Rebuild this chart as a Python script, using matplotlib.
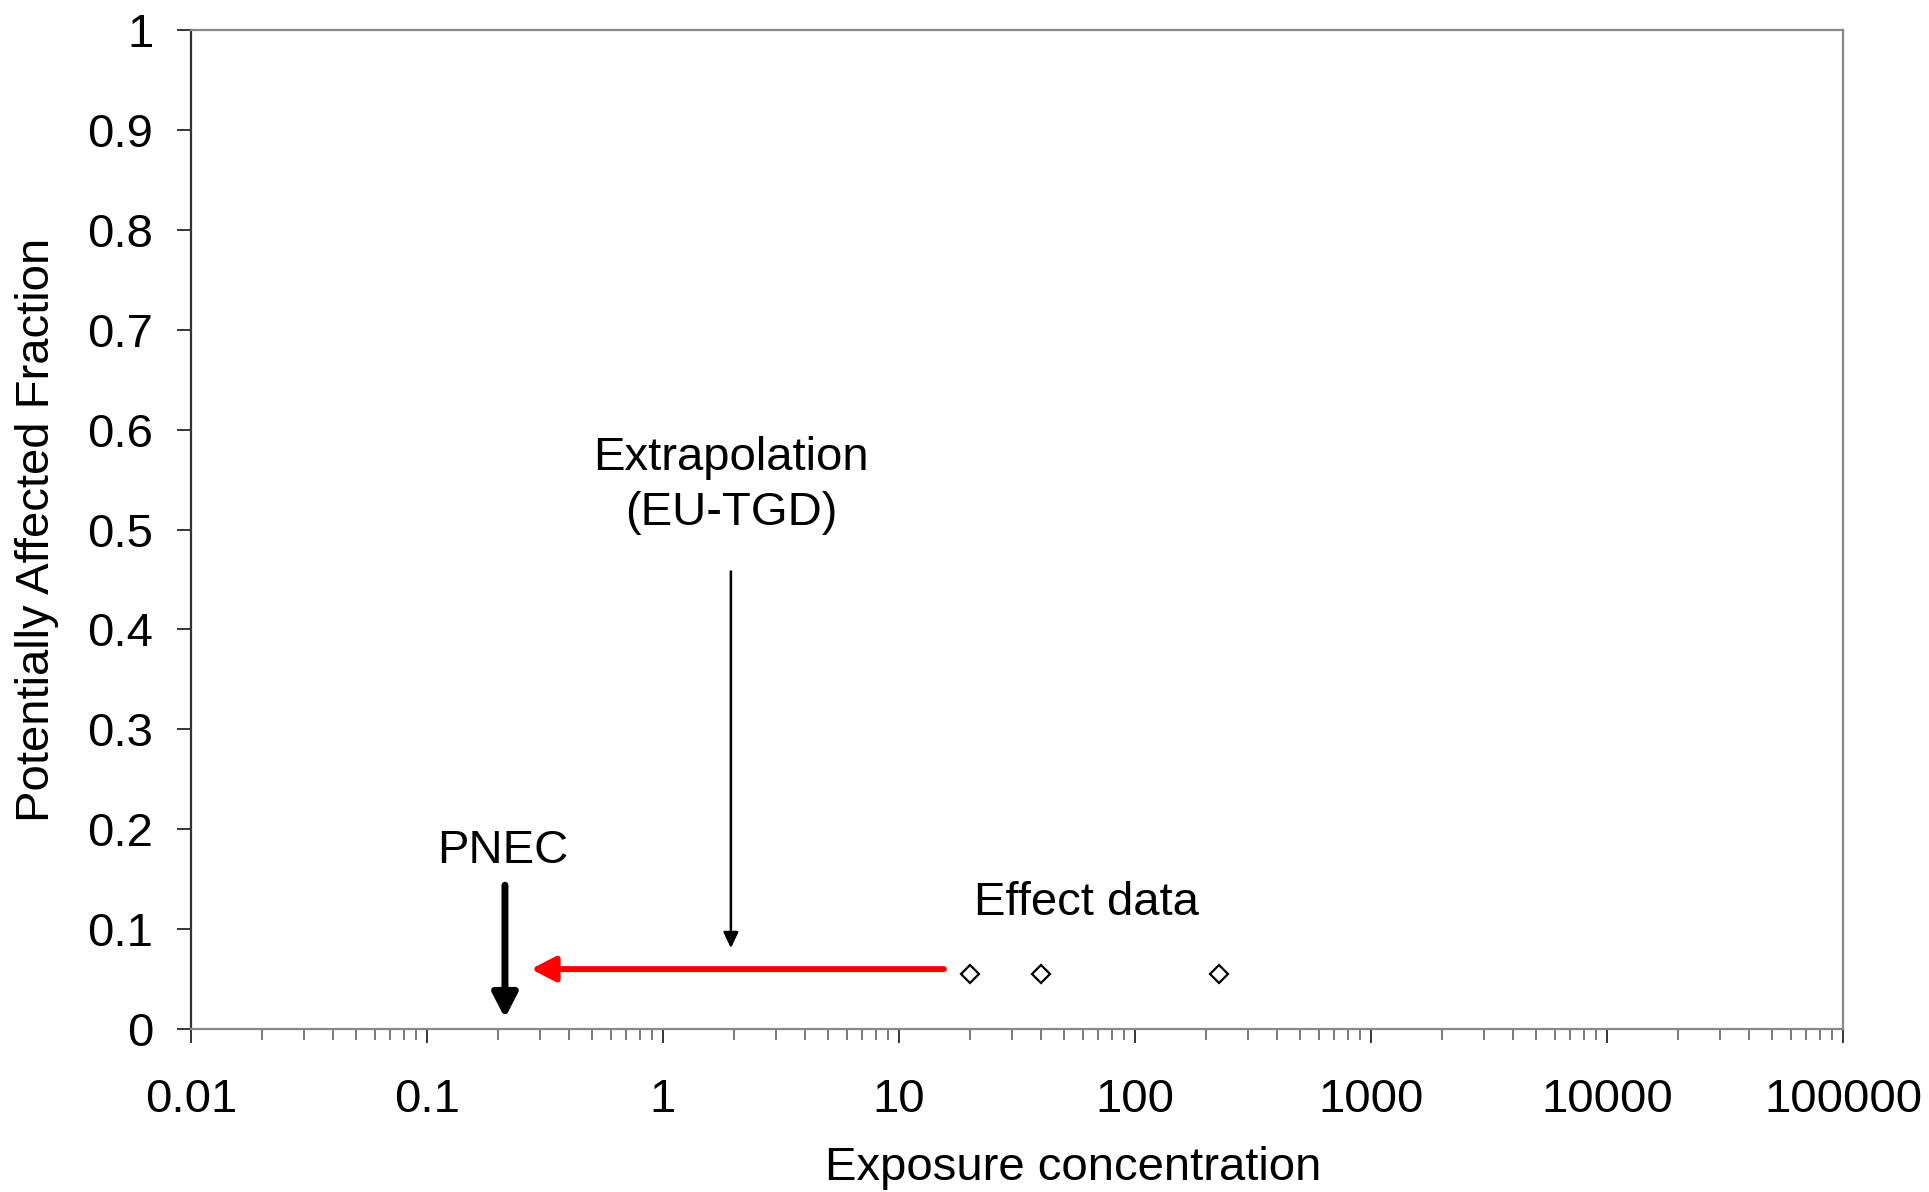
import numpy as np
import matplotlib
matplotlib.use("Agg")
import matplotlib.pyplot as plt
from matplotlib.ticker import FixedLocator, LogLocator, NullFormatter

plt.rcParams['font.family'] = ['Liberation Sans', 'DejaVu Sans']

# ---- data ----
effect_x = [20, 40, 228]
effect_y = [0.055, 0.055, 0.055]

pnec_x = 0.214
pnec_y_start = 0.144
pnec_y_end = 0.011

red_y = 0.06
red_x_start = 15.5
red_x_end = 0.276

extrap_x = 1.94
extrap_y_start = 0.458
extrap_y_end = 0.081

xticks = [0.01, 0.1, 1, 10, 100, 1000, 10000, 100000]
xtick_labels = ["0.01", "0.1", "1", "10", "100", "1000", "10000", "100000"]
yticks = [0, 0.1, 0.2, 0.3, 0.4, 0.5, 0.6, 0.7, 0.8, 0.9, 1]
ytick_labels = ["0", "0.1", "0.2", "0.3", "0.4", "0.5", "0.6", "0.7", "0.8", "0.9", "1"]

FS = 34

fig = plt.figure(figsize=(19.29, 11.92), dpi=100)
ax = fig.add_axes([0.0990, 0.1367, 0.9554 - 0.0990, 0.9748 - 0.1367])

ax.set_xscale('log')
ax.set_xlim(0.01, 100000)
ax.set_ylim(0, 1)

ax.plot(effect_x, effect_y, linestyle='none', marker='D', markersize=9,
        markerfacecolor='white', markeredgecolor='black', markeredgewidth=1.6,
        zorder=5)

# red extrapolation arrow
ax.annotate('', xy=(red_x_end, red_y), xytext=(red_x_start, red_y),
            arrowprops=dict(arrowstyle='-|>,head_length=14.5,head_width=7.5',
                            mutation_scale=1, color='#ff0000', lw=4.3,
                            shrinkA=0, shrinkB=0))
# PNEC arrow
ax.annotate('', xy=(pnec_x, pnec_y_end), xytext=(pnec_x, pnec_y_start),
            arrowprops=dict(arrowstyle='-|>,head_length=14.5,head_width=7.5',
                            mutation_scale=1, color='black', lw=5,
                            shrinkA=0, shrinkB=0))
# Extrapolation pointer arrow
ax.annotate('', xy=(extrap_x, extrap_y_end), xytext=(extrap_x, extrap_y_start),
            arrowprops=dict(arrowstyle='-|>,head_length=9.5,head_width=4.5',
                            mutation_scale=1, color='black', lw=1.8,
                            shrinkA=0, shrinkB=0))

ax.text(1.94, 0.544, "Extrapolation\n(EU-TGD)", ha='center', va='center',
        fontsize=FS, linespacing=1.32)
ax.text(0.21, 0.178, "PNEC", ha='center', va='center', fontsize=FS)
ax.text(62, 0.1265, "Effect data", ha='center', va='center', fontsize=FS)

ax.xaxis.set_major_locator(FixedLocator(xticks))
ax.set_xticklabels(xtick_labels)
ax.xaxis.set_minor_locator(LogLocator(base=10, subs=np.arange(2, 10), numticks=20))
ax.xaxis.set_minor_formatter(NullFormatter())
ax.set_yticks(yticks)
ax.set_yticklabels(ytick_labels)

ax.tick_params(axis='x', which='major', direction='out', length=10, width=1.1,
               labelsize=FS, pad=25, color='black')
ax.tick_params(axis='x', which='minor', direction='out', length=7.7, width=1.1,
               color='#555555')
ax.tick_params(axis='y', which='major', direction='out', length=10, width=1.1,
               labelsize=FS, pad=17, color='black')

for s in ['top', 'right', 'bottom']:
    ax.spines[s].set_color('#888888')
    ax.spines[s].set_linewidth(1.6)
ax.spines['left'].set_color('#333333')
ax.spines['left'].set_linewidth(1.6)

ax.set_xlabel("Exposure concentration", fontsize=FS)
ax.xaxis.set_label_coords(0.534, -0.117)
ax.set_ylabel("Potentially Affected Fraction", fontsize=FS)
ax.yaxis.set_label_coords(-0.080, 0.5)

fig.savefig("out.png", dpi=100, facecolor='white')
